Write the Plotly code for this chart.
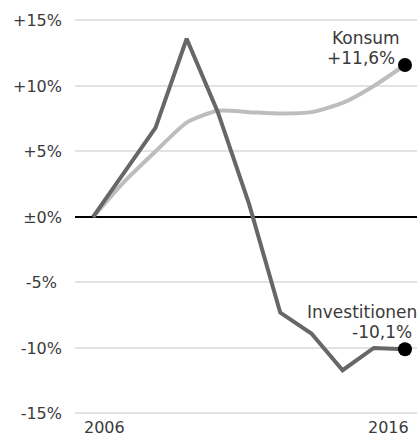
import plotly.graph_objects as go

# Veränderung gegenüber 2006, in Prozent
years = list(range(2006, 2017))
konsum = [0.0, 2.7, 5.0, 7.2, 8.1, 8.0, 7.9, 8.0, 8.7, 10.0, 11.6]
investitionen = [0.0, 3.4, 6.8, 13.6, 8.0, 1.0, -7.3, -8.9, -11.7, -10.0, -10.1]

y_ticks = [15, 10, 5, 0, -5, -10, -15]
y_tick_text = ["+15%", "+10%", "+5%", "±0%", "-5%\u2008", "-10%", "-15%"]
x_tick_years = [2006, 2016]

FONT = "DejaVu Sans"
TEXT = "#3a3a3a"

fig = go.Figure()

fig.add_trace(go.Scatter(
    x=years, y=konsum, mode="lines",
    line=dict(color="#bdbdbd", width=4, shape="spline", smoothing=0.6),
    hoverinfo="skip", showlegend=False,
))
fig.add_trace(go.Scatter(
    x=years, y=investitionen, mode="lines",
    line=dict(color="#676767", width=4),
    hoverinfo="skip", showlegend=False,
))
# End points
fig.add_trace(go.Scatter(
    x=[years[-1], years[-1]], y=[konsum[-1], investitionen[-1]],
    mode="markers", marker=dict(color="black", size=14),
    hoverinfo="skip", showlegend=False, cliponaxis=False,
))

annotations = [
    dict(x=years[-1], y=konsum[-1], text="Konsum", xanchor="center", yanchor="middle",
         xshift=-39, yshift=27),
    dict(x=years[-1], y=konsum[-1], text="+11,6%", xanchor="center", yanchor="middle",
         xshift=-44, yshift=7),
    dict(x=years[-1], y=investitionen[-1], text="Investitionen", xanchor="right",
         yanchor="middle", xshift=14, yshift=37),
    dict(x=years[-1], y=investitionen[-1], text="-10,1%", xanchor="right",
         yanchor="middle", xshift=9, yshift=17),
]
for yr, dx in zip(x_tick_years, [11, -16]):
    annotations.append(dict(x=yr, y=-15, text=str(yr), xanchor="center", yanchor="middle",
                            xshift=dx, yshift=-14, font=dict(size=16)))
for a in annotations:
    a.update(showarrow=False, xref="x", yref="y")
    a.setdefault("font", dict(size=17))
    a["font"].update(family=FONT, color=TEXT)

fig.update_layout(
    width=417, height=436,
    margin=dict(l=75, r=0, t=0, b=0),
    paper_bgcolor="white", plot_bgcolor="white",
    font=dict(family=FONT, size=16, color=TEXT),
    annotations=annotations,
    xaxis=dict(range=[2005.42, 2016.385], showgrid=False, zeroline=False,
               showticklabels=False, showline=False, fixedrange=True),
    yaxis=dict(range=[-16.72, 16.56], tickvals=y_ticks, ticktext=y_tick_text,
               showgrid=True, gridcolor="#e2e2e2", gridwidth=1.5,
               zeroline=True, zerolinecolor="black", zerolinewidth=1.5,
               showline=False, ticks="", ticklabelstandoff=12,
               tickfont=dict(family=FONT, size=16, color=TEXT), fixedrange=True),
)

fig.write_html("out.html")
